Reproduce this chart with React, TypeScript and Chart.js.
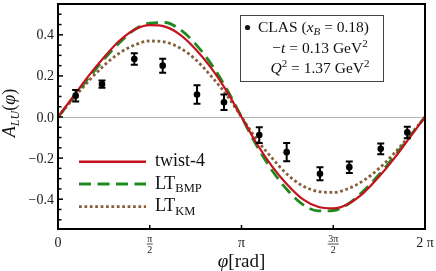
import React, { useEffect, useRef } from "react";
import { Chart, registerables } from "chart.js";

Chart.register(...registerables);

// phi grid for the model curves (rad)
const curvePhi = [0, 0.262, 0.524, 0.785, 1.047, 1.309, 1.571, 1.833, 2.094, 2.356, 2.618, 2.88, 3.142,
  3.403, 3.665, 3.927, 4.189, 4.451, 4.712, 4.974, 5.236, 5.498, 5.76, 6.021, 6.283];
const twist4 = [0, 0.1, 0.2, 0.29, 0.37, 0.425, 0.447, 0.44, 0.4, 0.33, 0.24, 0.13, 0,
  -0.13, -0.24, -0.33, -0.4, -0.437, -0.445, -0.422, -0.368, -0.29, -0.2, -0.1, 0];
const ltBMP = [0, 0.095, 0.19, 0.28, 0.36, 0.425, 0.457, 0.46, 0.425, 0.355, 0.26, 0.14, 0,
  -0.14, -0.26, -0.355, -0.425, -0.457, -0.455, -0.422, -0.358, -0.28, -0.19, -0.095, 0];
const ltKM = [0, 0.09, 0.175, 0.25, 0.31, 0.35, 0.37, 0.365, 0.335, 0.28, 0.2, 0.11, 0,
  -0.11, -0.2, -0.28, -0.335, -0.362, -0.367, -0.348, -0.308, -0.25, -0.175, -0.09, 0];

// CLAS data
const dataPhi = [0.303, 0.753, 1.306, 1.792, 2.38, 2.842, 3.446, 3.915, 4.485, 4.987, 5.525, 5.98];
const dataVal = [0.104, 0.16, 0.282, 0.25, 0.109, 0.072, -0.088, -0.171, -0.276, -0.244, -0.155, -0.075];
const dataErr = [0.028, 0.018, 0.028, 0.034, 0.045, 0.038, 0.038, 0.044, 0.032, 0.028, 0.026, 0.028];

const yTickVals = [0.4, 0.2, 0, -0.2, -0.4];
const yTickLabels = ["0.4", "0.2", "0.0", "\u22120.2", "\u22120.4"];
const xTickVals = [0, Math.PI / 2, Math.PI, (3 * Math.PI) / 2, 2 * Math.PI];
const xTickLabels = ["0", "\u03c0/2", "\u03c0", "3\u03c0/2", "2 \u03c0"];

const RED = "#c4121f";
const GREEN = "#1f8a22";
const BROWN = "#86603c";
const SERIF = "'Liberation Serif', 'Times New Roman', serif";

type Run = { t: string; size: number; italic?: boolean; dy?: number };

function fontOf(r: Run) {
  return `${r.italic ? "italic " : ""}${r.size}px ${SERIF}`;
}
function runsWidth(ctx: CanvasRenderingContext2D, runs: Run[]) {
  let w = 0;
  for (const r of runs) {
    ctx.font = fontOf(r);
    w += ctx.measureText(r.t).width;
  }
  return w;
}
function drawRuns(ctx: CanvasRenderingContext2D, runs: Run[], x: number, y: number, align: "left" | "center" | "right") {
  const w = runsWidth(ctx, runs);
  let cx = align === "left" ? x : align === "center" ? x - w / 2 : x - w;
  ctx.textAlign = "left";
  ctx.textBaseline = "alphabetic";
  for (const r of runs) {
    ctx.font = fontOf(r);
    ctx.fillText(r.t, cx, y + (r.dy || 0));
    cx += ctx.measureText(r.t).width;
  }
}

const decor = {
  id: "decor",
  beforeDatasetsDraw(chart: any) {
    const { ctx, chartArea: a, scales } = chart;
    const y0 = Math.round(scales.y.getPixelForValue(0)) + 0.5;
    ctx.save();
    ctx.strokeStyle = "#b4b4b4";
    ctx.lineWidth = 1;
    ctx.beginPath();
    ctx.moveTo(a.left, y0);
    ctx.lineTo(a.right, y0);
    ctx.stroke();
    ctx.restore();
  },
  afterDatasetsDraw(chart: any) {
    const { ctx, scales } = chart;
    ctx.save();
    ctx.strokeStyle = "#000";
    ctx.lineWidth = 2;
    for (let i = 0; i < dataPhi.length; i++) {
      const px = scales.x.getPixelForValue(dataPhi[i]);
      const yt = scales.y.getPixelForValue(dataVal[i] + dataErr[i]);
      const yb = scales.y.getPixelForValue(dataVal[i] - dataErr[i]);
      ctx.beginPath();
      ctx.moveTo(px, yt);
      ctx.lineTo(px, yb);
      ctx.moveTo(px - 3.5, yt);
      ctx.lineTo(px + 3.5, yt);
      ctx.moveTo(px - 3.5, yb);
      ctx.lineTo(px + 3.5, yb);
      ctx.stroke();
    }
    ctx.restore();
  },
  afterDraw(chart: any) {
    const { ctx, chartArea: a, scales } = chart;
    const xs = scales.x;
    const ys = scales.y;
    ctx.save();
    // frame
    ctx.strokeStyle = "#000";
    ctx.lineWidth = 2;
    ctx.strokeRect(a.left, a.top, a.right - a.left, a.bottom - a.top);

    // y ticks (inward)
    ctx.lineWidth = 1.5;
    for (let k = -10; k <= 11; k++) {
      const v = k * 0.05;
      const py = ys.getPixelForValue(v);
      if (py < a.top + 2 || py > a.bottom - 2) continue;
      const major = k % 4 === 0;
      ctx.beginPath();
      ctx.moveTo(a.left, py);
      ctx.lineTo(a.left + (major ? 5 : 3.5), py);
      ctx.stroke();
    }
    // x ticks (inward)
    for (let i = 1; i < xTickVals.length - 1; i++) {
      const px = xs.getPixelForValue(xTickVals[i]);
      ctx.beginPath();
      ctx.moveTo(px, a.bottom);
      ctx.lineTo(px, a.bottom - 4);
      ctx.stroke();
    }

    ctx.fillStyle = "#222";
    // y tick labels
    for (let i = 0; i < yTickVals.length; i++) {
      const py = ys.getPixelForValue(yTickVals[i]);
      drawRuns(ctx, [{ t: yTickLabels[i], size: 14 }], a.left - 4, py + 4.5, "right");
    }
    // x tick labels
    for (let i = 0; i < xTickVals.length; i++) {
      const px = xs.getPixelForValue(xTickVals[i]);
      const lab = xTickLabels[i];
      if (lab.includes("/")) {
        const [num, den] = lab.split("/");
        ctx.font = `10px ${SERIF}`;
        const w = Math.max(ctx.measureText(num).width, ctx.measureText(den).width) + 1;
        drawRuns(ctx, [{ t: num, size: 10 }], px, 242, "center");
        ctx.strokeStyle = "#222";
        ctx.lineWidth = 0.8;
        ctx.beginPath();
        ctx.moveTo(px - w / 2, 244);
        ctx.lineTo(px + w / 2, 244);
        ctx.stroke();
        drawRuns(ctx, [{ t: den, size: 10 }], px, 253, "center");
      } else {
        drawRuns(ctx, [{ t: lab, size: 14 }], px, 247, "center");
      }
    }

    ctx.fillStyle = "#111";
    // x axis title
    drawRuns(ctx, [{ t: "\u03c6", size: 19, italic: true }, { t: "[rad]", size: 19 }], (a.left + a.right) / 2, 267, "center");

    // y axis title (rotated)
    ctx.save();
    ctx.translate(15, 113);
    ctx.rotate(-Math.PI / 2);
    drawRuns(ctx, [
      { t: "A", size: 18, italic: true },
      { t: "LU", size: 12, italic: true, dy: 3.5 },
      { t: "(", size: 18 },
      { t: "\u03c6", size: 18, italic: true },
      { t: ")", size: 18 },
    ], 0, 0, "center");
    ctx.restore();

    // legend
    const legend = [
      { color: RED, dash: [] as number[], w: 2.4, y: 161.7, runs: [{ t: "twist-4", size: 18 }] as Run[] },
      { color: GREEN, dash: [12, 6.5], w: 2.8, y: 184, runs: [{ t: "LT", size: 18 }, { t: "BMP", size: 12.5, dy: 3.5 }] as Run[] },
      { color: BROWN, dash: [2.8, 2.6], w: 2.8, y: 206.7, runs: [{ t: "LT", size: 18 }, { t: "KM", size: 12.5, dy: 3.5 }] as Run[] },
    ];
    for (const it of legend) {
      ctx.strokeStyle = it.color;
      ctx.lineWidth = it.w;
      ctx.setLineDash(it.dash);
      ctx.lineCap = "butt";
      ctx.beginPath();
      ctx.moveTo(79, it.y);
      ctx.lineTo(146, it.y);
      ctx.stroke();
      ctx.setLineDash([]);
      ctx.fillStyle = "#111";
      drawRuns(ctx, it.runs, 155, it.y + 4.5, "left");
    }

    // info box
    ctx.fillStyle = "#fff";
    ctx.fillRect(241, 15, 143, 66);
    ctx.strokeStyle = "#444";
    ctx.lineWidth = 1;
    ctx.strokeRect(240.5, 15.5, 143, 66);
    ctx.fillStyle = "#111";
    ctx.beginPath();
    ctx.arc(247.5, 27.5, 2.6, 0, Math.PI * 2);
    ctx.fill();
    drawRuns(ctx, [
      { t: "CLAS (", size: 15.5 },
      { t: "x", size: 15.5, italic: true },
      { t: "B", size: 11, italic: true, dy: 3 },
      { t: " = 0.18)", size: 15.5 },
    ], 258, 32, "left");
    drawRuns(ctx, [
      { t: "\u2212", size: 15.5 },
      { t: "t", size: 15.5, italic: true },
      { t: " = 0.13 GeV", size: 15.5 },
      { t: "2", size: 11, dy: -6 },
    ], 320, 53, "center");
    drawRuns(ctx, [
      { t: "Q", size: 15.5, italic: true },
      { t: "2", size: 11, dy: -6 },
      { t: " = 1.37 GeV", size: 15.5 },
      { t: "2", size: 11, dy: -6 },
    ], 320, 73, "center");

    ctx.restore();
  },
};

export default function App() {
  const ref = useRef<HTMLCanvasElement | null>(null);
  useEffect(() => {
    document.body.style.margin = "0";
    const canvas = ref.current!;
    const mk = (ys: number[]) => curvePhi.map((p, i) => ({ x: p, y: ys[i] }));
    const chart = new Chart(canvas, {
      type: "line",
      data: {
        datasets: [
          {
            type: "scatter",
            label: "CLAS",
            data: dataPhi.map((p, i) => ({ x: p, y: dataVal[i] })),
            backgroundColor: "#000",
            borderWidth: 0,
            pointRadius: 3.3,
            showLine: false,
          } as any,
          {
            label: "twist-4",
            data: mk(twist4),
            borderColor: RED,
            borderWidth: 2.2,
            pointRadius: 0,
            cubicInterpolationMode: "monotone",
            fill: false,
          },
          {
            label: "LT BMP",
            data: mk(ltBMP),
            borderColor: GREEN,
            borderWidth: 2.8,
            borderDash: [12, 6.5],
            pointRadius: 0,
            cubicInterpolationMode: "monotone",
            fill: false,
          },
          {
            label: "LT KM",
            data: mk(ltKM),
            borderColor: BROWN,
            borderWidth: 2.8,
            borderDash: [2.8, 2.6],
            pointRadius: 0,
            cubicInterpolationMode: "monotone",
            fill: false,
          },
        ],
      },
      options: {
        responsive: false,
        animation: false,
        devicePixelRatio: 1,
        layout: { padding: { left: 58, right: 11, top: 1, bottom: 42 } },
        plugins: { legend: { display: false }, tooltip: { enabled: false }, title: { display: false } },
        scales: {
          x: { type: "linear", min: 0, max: 2 * Math.PI, display: false },
          y: { type: "linear", min: -0.545, max: 0.55, display: false },
        },
      },
      plugins: [decor],
    });
    return () => chart.destroy();
  }, []);
  return <canvas ref={ref} width={436} height={271} style={{ display: "block", width: 436, height: 271 }} />;
}
